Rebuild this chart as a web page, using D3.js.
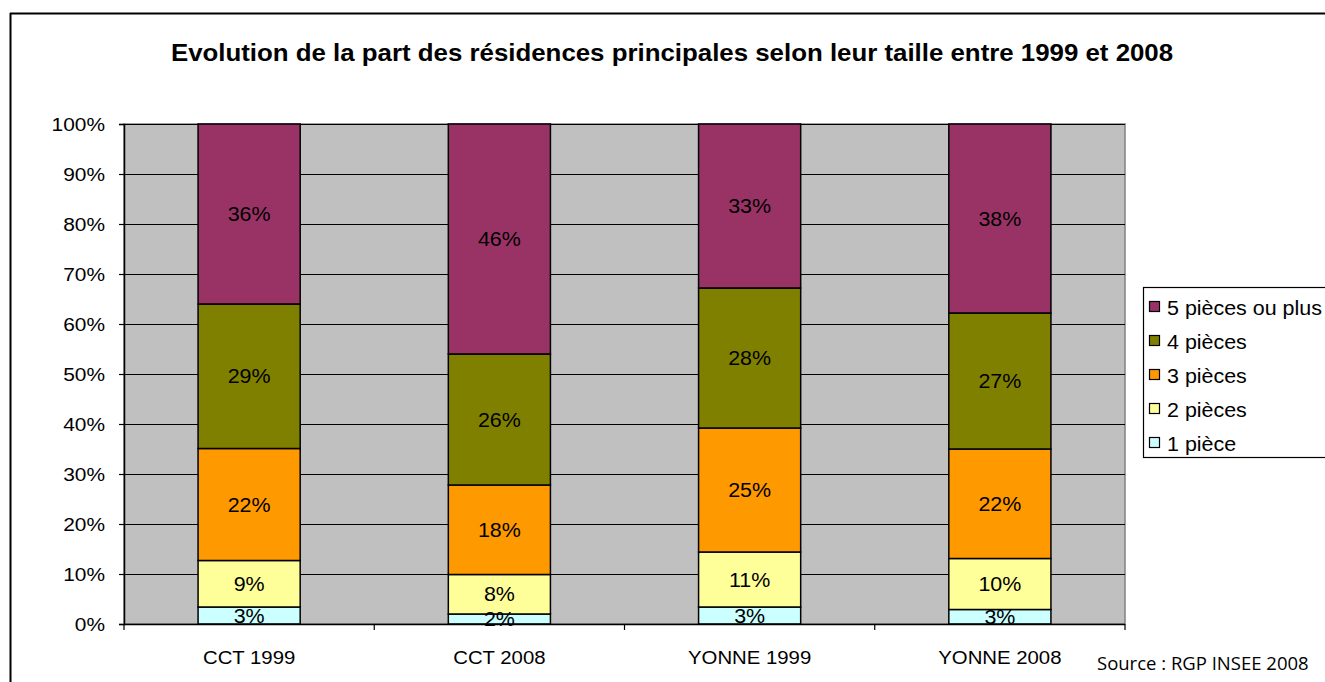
<!DOCTYPE html>
<html>
<head>
<meta charset="utf-8">
<script src="https://cdn.jsdelivr.net/npm/d3@7"></script>
<style>
html,body{margin:0;padding:0;background:#fff;}
svg{display:block;font-family:"Liberation Sans",Arial,sans-serif;}
</style>
</head>
<body>
<svg id="chart" width="1325" height="682"></svg>
<script>
const categories = ["CCT 1999", "CCT 2008", "YONNE 1999", "YONNE 2008"];
const seriesNames = ["1 pièce", "2 pièces", "3 pièces", "4 pièces", "5 pièces ou plus"];
const piece1 = [3.4, 2.0, 3.4, 2.9];
const piece2 = [9.3, 7.9, 11.0, 10.2];
const piece3 = [22.4, 17.9, 24.8, 21.9];
const piece4 = [28.9, 26.2, 28.0, 27.2];
const piece5 = [36.0, 46.0, 32.8, 37.8];
const seriesColors = ["#ccffff", "#ffff99", "#ff9900", "#808000", "#993366"];
const yTicks = [0, 10, 20, 30, 40, 50, 60, 70, 80, 90, 100];
const titleText = "Evolution de la part des résidences principales selon leur taille entre 1999 et 2008";
const sourceText = "Source : RGP INSEE 2008";

const seriesValues = [piece1, piece2, piece3, piece4, piece5];
const rows = categories.map((c, i) => {
  const r = {cat: c};
  seriesNames.forEach((s, j) => r[s] = seriesValues[j][i]);
  return r;
});

const SX = 1.1;
function addText(g, x, y, str, size, anchor, extra) {
  const t = g.append("text")
    .attr("transform", `translate(${x},${y}) scale(${SX},1)`)
    .attr("font-size", size).attr("text-anchor", anchor || "start").attr("fill", "#000")
    .text(str);
  if (extra) extra(t);
  return t;
}

const svg = d3.select("#chart");
const plot = {left: 124, right: 1125, top: 124, bottom: 624};

// frame
svg.append("line").attr("x1", 10).attr("x2", 1325).attr("y1", 13.5).attr("y2", 13.5)
  .attr("stroke", "#000").attr("stroke-width", 2);
svg.append("line").attr("x1", 10.5).attr("x2", 10.5).attr("y1", 13).attr("y2", 682)
  .attr("stroke", "#000").attr("stroke-width", 2);

// title
addText(svg, 672, 60.5, titleText, 23.5, "middle", t => t.attr("font-weight", "bold"));

const p = 0.592;
const x = d3.scaleBand().domain(categories).range([plot.left, plot.right])
  .paddingInner(p).paddingOuter(p / 2);
const y = d3.scaleLinear().domain([0, 100]).range([plot.bottom, plot.top]);

// plot background
svg.append("rect").attr("x", plot.left).attr("y", plot.top)
  .attr("width", plot.right - plot.left).attr("height", plot.bottom - plot.top)
  .attr("fill", "#c0c0c0").attr("stroke", "#808080").attr("stroke-width", 1.5);

// gridlines
svg.append("g").selectAll("line").data(yTicks.filter(t => t > 0)).join("line")
  .attr("x1", plot.left).attr("x2", plot.right)
  .attr("y1", d => Math.round(y(d)) + 0.5).attr("y2", d => Math.round(y(d)) + 0.5)
  .attr("stroke", "#000").attr("stroke-width", 1.2);

// stacks
const stack = d3.stack().keys(seriesNames);
const stacked = stack(rows);

const layers = svg.append("g").selectAll("g").data(stacked).join("g")
  .attr("fill", (d, i) => seriesColors[i]);
layers.selectAll("rect").data(d => d).join("rect")
  .attr("x", d => x(d.data.cat))
  .attr("width", x.bandwidth())
  .attr("y", d => y(d[1]))
  .attr("height", d => y(d[0]) - y(d[1]))
  .attr("stroke", "#000").attr("stroke-width", 1.5);

// data labels
const labelG = svg.append("g");
stacked.forEach(layer => {
  layer.forEach(d => {
    addText(labelG, x(d.data.cat) + x.bandwidth() / 2, (y(d[0]) + y(d[1])) / 2 + 7,
      Math.round(d[1] - d[0]) + "%", 19.5, "middle");
  });
});

// y axis
const yAxis = d3.axisLeft(y).tickValues(yTicks).tickFormat("").tickSize(5);
const yg = svg.append("g").attr("transform", `translate(${plot.left},0)`).call(yAxis);
yg.select(".domain").attr("stroke", "#000").attr("stroke-width", 1.5);
yg.selectAll(".tick line").attr("stroke", "#000").attr("stroke-width", 1.2);
const ylab = svg.append("g");
yTicks.forEach(t => addText(ylab, 105, y(t) + 7, t + "%", 19, "end"));

// x axis with ticks at category boundaries
const xAxisG = svg.append("g").attr("transform", `translate(0,${plot.bottom})`);
xAxisG.append("line").attr("x1", plot.left).attr("x2", plot.right).attr("y1", 0.5).attr("y2", 0.5)
  .attr("stroke", "#000").attr("stroke-width", 1.5);
const bounds = categories.map(c => x(c) - x.step() * p / 2).concat([plot.right]);
xAxisG.selectAll("line.tk").data(bounds).join("line").attr("class", "tk")
  .attr("x1", d => d).attr("x2", d => d).attr("y1", 0).attr("y2", 6)
  .attr("stroke", "#000").attr("stroke-width", 1.2);
categories.forEach(c => addText(xAxisG, x(c) + x.bandwidth() / 2, 39.5, c, 18.5, "middle"));

// legend
const leg = svg.append("g");
leg.append("rect").attr("x", 1143.5).attr("y", 287.5).attr("width", 200).attr("height", 170)
  .attr("fill", "#fff").attr("stroke", "#000").attr("stroke-width", 1.2);
const legOrder = seriesNames.map((s, i) => i).reverse();
legOrder.forEach((si, k) => {
  const cy = 307 + k * 34;
  leg.append("rect").attr("x", 1149.5).attr("y", cy - 5.5).attr("width", 10).attr("height", 10)
    .attr("fill", seriesColors[si]).attr("stroke", "#000").attr("stroke-width", 1.2);
  addText(leg, 1167, cy + 7.5, seriesNames[si], 19.5, "start");
});

// source
svg.append("text").attr("x", 1097).attr("y", 670).attr("font-size", 18.5)
  .attr("font-family", "Open Sans, Liberation Sans, sans-serif").text(sourceText);
</script>
</body>
</html>
